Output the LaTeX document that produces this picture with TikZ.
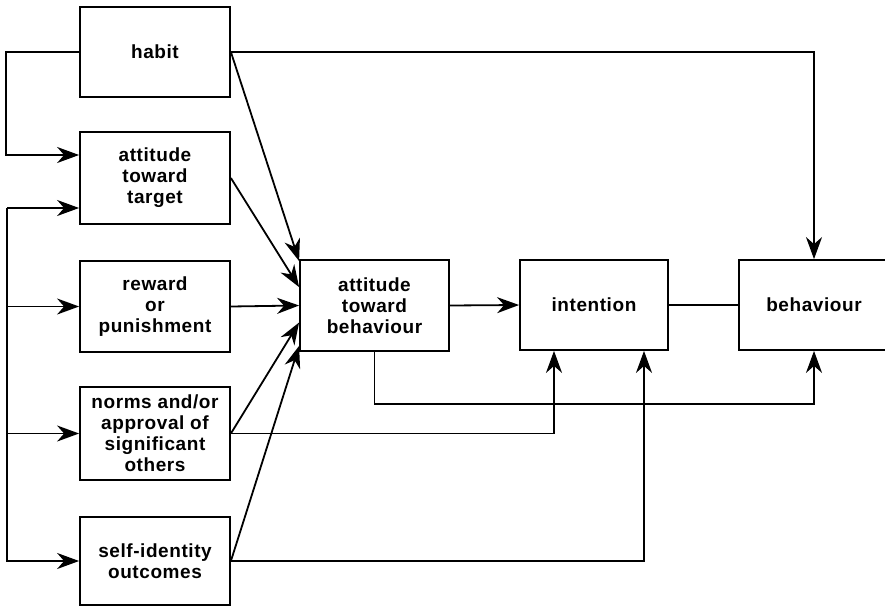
\documentclass[tikz,border=0pt]{standalone}
\usepackage{fontspec}
\setmainfont{Liberation Sans}
\newfontfamily\boxfont[LetterSpace=3]{Liberation Sans}
\usetikzlibrary{arrows.meta}
\begin{document}
\begin{tikzpicture}[x=1pt,y=-1pt,line width=1.8pt,
  box/.style={draw, rectangle, align=center, inner sep=0pt, minimum width=150pt,
    font=\boxfont\fontsize{19}{21}\selectfont\bfseries},
  arr/.style={-{Stealth[length=22pt,width=16pt,inset=7pt]}}]
\useasboundingbox (0,0) rectangle (885,607);
\node[box, minimum height=90pt] (habit) at (155,52) {habit};
\node[box, minimum height=92pt] (target) at (155,178) {attitude\\toward\\target};
\node[box, minimum height=91pt] (reward) at (155,306.5) {reward\\or\\punishment};
\node[box, minimum height=93pt] (norms) at (155,433.5) {norms and/or\\approval of\\significant\\others};
\node[box, minimum height=88pt] (self) at (155,561) {self-identity\\outcomes};
\node[box, minimum width=149pt, minimum height=91pt] (attb) at (374.5,305.5) {attitude\\toward\\behaviour};
\node[box, minimum width=148pt, minimum height=90pt] (intent) at (594,305) {intention};
\node[box, minimum height=90pt] (behav) at (814,305) {behaviour};
\coordinate (src) at (7,208);
% left loops
\draw[arr] (habit.west) -- ++(-73,0) |- ([yshift=23pt]target.west);
\draw[arr] (src) -- ([yshift=-30pt]target.west);
\draw (src) -- (7,562);
\draw[arr] (src) |- (reward.west);
\draw[arr] (src) |- (norms.west);
\draw[arr] (src) |- (self.west);
% into attitude toward behaviour
\draw[arr] (habit.east) -- ([yshift=-2pt]attb.north west);
\draw[arr] (target.east) -- ([yshift=-28pt]attb.north west);
\draw[arr] (reward.east) -- (attb.west);
\draw[arr] (norms.east) -- ([yshift=-17pt]attb.west);
\draw[arr] (self.east) -- ([yshift=6pt]attb.south west);
% main chain
\draw[arr] (attb.east) -- (intent.west);
\draw (intent.east) -- (behav.west);
\draw[arr] (habit.east) -| (behav.north);
\draw[arr] (attb.south) -- ++(0,52) -| (behav.south);
\draw[arr] (norms.east) -| ([xshift=-40pt]intent.south);
\draw[arr] (self.east) -| ([xshift=50pt]intent.south);
\end{tikzpicture}
\end{document}
